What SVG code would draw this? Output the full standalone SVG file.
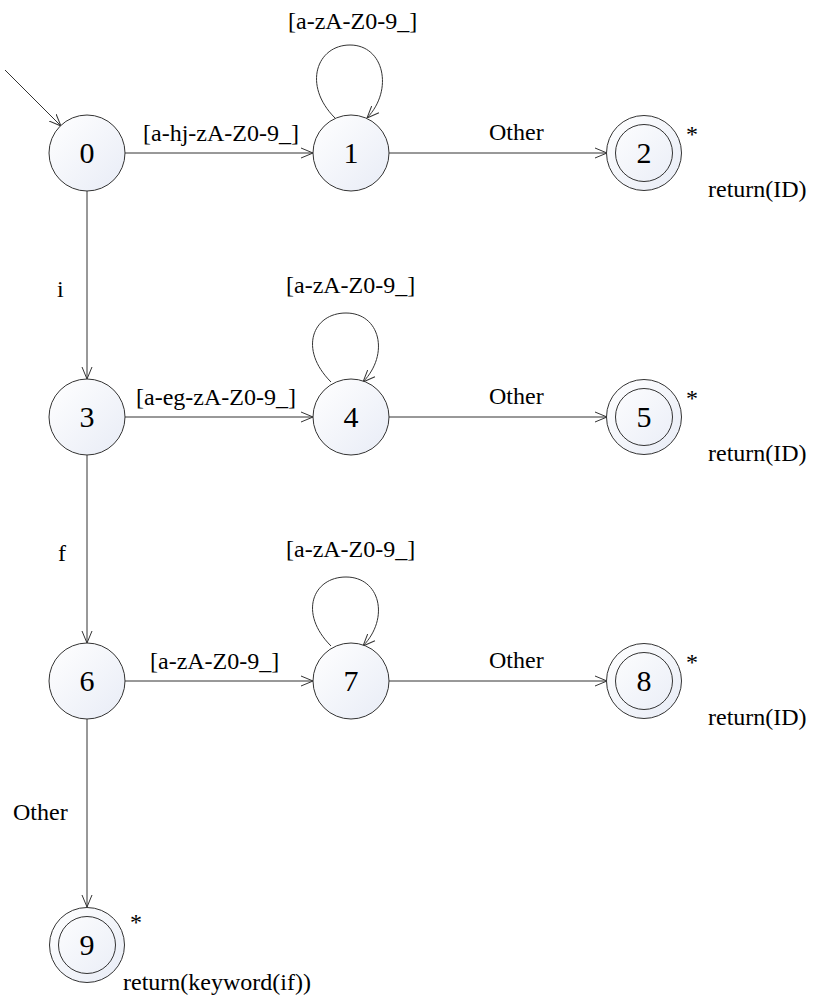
<svg xmlns="http://www.w3.org/2000/svg" width="819" height="1008" viewBox="0 0 819 1008">
<defs>
<linearGradient id="g" x1="0" y1="0" x2="1" y2="1">
<stop offset="0" stop-color="#ffffff"/>
<stop offset="1" stop-color="#e8ecf6"/>
</linearGradient>
<marker id="a" viewBox="0 0 12 12" refX="12" refY="6" markerWidth="12" markerHeight="12" markerUnits="userSpaceOnUse" orient="auto">
<path d="M0,1 L12,6 L0,11" fill="none" stroke="#333" stroke-width="1"/>
</marker>
<style>
.n{fill:url(#g);stroke:#333;stroke-width:1}
.i{fill:none;stroke:#333;stroke-width:1}
.e{fill:none;stroke:#333;stroke-width:1;marker-end:url(#a)}
.d{font-size:30px;text-anchor:middle}
.l{font-size:24px}
</style>
</defs>
<g id="connectors">
<line class="e" x1="5" y1="70" x2="61" y2="126"/>
<line class="e" x1="125" y1="153" x2="313" y2="153"/>
<line class="e" x1="389" y1="153" x2="607" y2="153"/>
<line class="e" x1="87" y1="191" x2="87" y2="379"/>
<line class="e" x1="125" y1="417" x2="313" y2="417"/>
<line class="e" x1="389" y1="417" x2="607" y2="417"/>
<line class="e" x1="87" y1="455" x2="87" y2="643"/>
<line class="e" x1="125" y1="681" x2="313" y2="681"/>
<line class="e" x1="389" y1="681" x2="607" y2="681"/>
<line class="e" x1="87" y1="719" x2="87" y2="907"/>
<path class="e" d="M335,118 C302,85 317,45 350,45 C384,45 394,90 367,118"/>
<path class="e" d="M331,382 C298,349 313,313 346,313 C380,313 390,354 363,382"/>
<path class="e" d="M331,646 C298,613 313,577 346,577 C380,577 390,618 363,646"/>
</g>
<g id="labels" font-family="'Liberation Serif', 'DejaVu Serif', 'Times New Roman', serif" fill="#000">
<text class="l" x="143" y="141">[a-hj-zA-Z0-9_]</text>
<text class="l" x="489" y="140">Other</text>
<text class="l" x="288" y="29">[a-zA-Z0-9_]</text>
<text class="l" x="708" y="197">return(ID)</text>
<text class="l" x="686" y="142">*</text>
<text class="l" x="57" y="297">i</text>
<text class="l" x="136" y="405">[a-eg-zA-Z0-9_]</text>
<text class="l" x="489" y="404">Other</text>
<text class="l" x="286" y="293">[a-zA-Z0-9_]</text>
<text class="l" x="708" y="461">return(ID)</text>
<text class="l" x="686" y="406">*</text>
<text class="l" x="58" y="561">f</text>
<text class="l" x="150" y="669">[a-zA-Z0-9_]</text>
<text class="l" x="489" y="668">Other</text>
<text class="l" x="286" y="557">[a-zA-Z0-9_]</text>
<text class="l" x="708" y="725">return(ID)</text>
<text class="l" x="686" y="670">*</text>
<text class="l" x="13" y="820">Other</text>
<text class="l" x="123" y="990">return(keyword(if))</text>
<text class="l" x="130" y="930">*</text>
</g>
<g font-family="'Liberation Serif', 'DejaVu Serif', 'Times New Roman', serif" fill="#000">
<g id="n0"><circle class="n" cx="87" cy="153" r="38"/><text class="d" x="87" y="163">0</text></g>
<g id="n1"><circle class="n" cx="351" cy="153" r="38"/><text class="d" x="351" y="163">1</text></g>
<g id="n2"><circle class="n" cx="644" cy="153" r="37.5"/><circle class="i" cx="644" cy="153" r="28.5"/><text class="d" x="644" y="163">2</text></g>
<g id="n3"><circle class="n" cx="87" cy="417" r="38"/><text class="d" x="87" y="427">3</text></g>
<g id="n4"><circle class="n" cx="351" cy="417" r="38"/><text class="d" x="351" y="427">4</text></g>
<g id="n5"><circle class="n" cx="644" cy="417" r="37.5"/><circle class="i" cx="644" cy="417" r="28.5"/><text class="d" x="644" y="427">5</text></g>
<g id="n6"><circle class="n" cx="87" cy="681" r="38"/><text class="d" x="87" y="691">6</text></g>
<g id="n7"><circle class="n" cx="351" cy="681" r="38"/><text class="d" x="351" y="691">7</text></g>
<g id="n8"><circle class="n" cx="644" cy="681" r="37.5"/><circle class="i" cx="644" cy="681" r="28.5"/><text class="d" x="644" y="691">8</text></g>
<g id="n9"><circle class="n" cx="87" cy="945" r="37.5"/><circle class="i" cx="87" cy="945" r="28.5"/><text class="d" x="87" y="955">9</text></g>
</g>
</svg>
